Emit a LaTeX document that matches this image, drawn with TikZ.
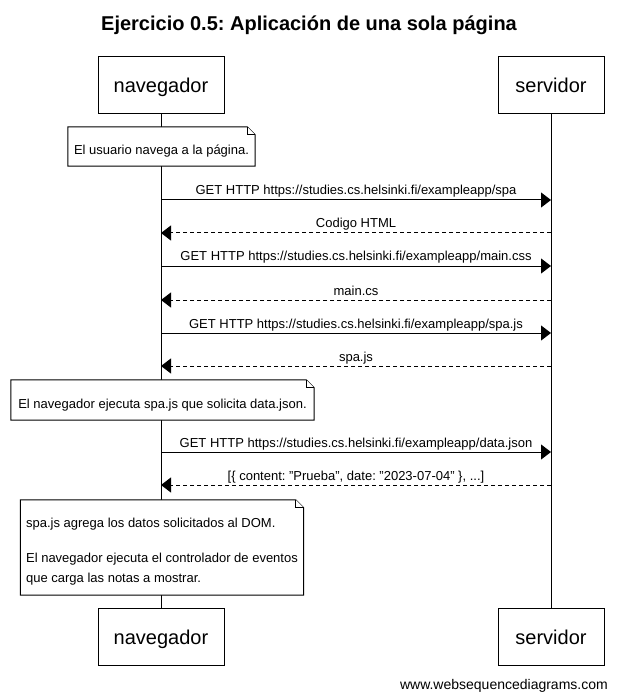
\documentclass[tikz,border=0pt]{standalone}
\usepackage{fontspec}
\setmainfont{Liberation Sans}
\usetikzlibrary{arrows.meta,calc}
\pgfdeclarelayer{bg}
\pgfdeclarelayer{back}
\pgfdeclarelayer{mid}
\pgfsetlayers{bg,back,mid,main}
\frenchspacing
\newcommand\drawnote[1]{%
  \begin{pgfonlayer}{mid}
    \draw[notefill] (#1.north west) -- ([xshift=-8pt]#1.north east) -- ([yshift=-8pt]#1.north east) -- (#1.south east) -- (#1.south west) -- cycle;
    \draw[notefill] ([xshift=-8pt]#1.north east) |- ([yshift=-8pt]#1.north east);
  \end{pgfonlayer}}
\begin{document}
\begin{tikzpicture}[x=1pt,y=-1pt,
  actor/.style={draw,fill=white,line width=1pt,minimum height=57pt,inner sep=0pt,
    text height=18pt,text depth=3pt,font=\fontsize{20}{24}\selectfont},
  lbl/.style={font=\fontsize{13}{15}\selectfont,inner sep=0pt,anchor=base},
  req/.style={line width=1pt,-{Triangle[length=10pt,width=15pt]}},
  resp/.style={req,dash pattern=on 4pt off 3pt},
  notebox/.style={inner sep=0pt,font=\fontsize{13}{15}\selectfont},
  lownote/.style={text height=18pt,text depth=1.4pt},
  notefill/.style={line width=1pt,fill=white},
  life/.style={line width=1pt}]
\begin{pgfonlayer}{bg}
  \fill[white] (0,0) rectangle (618,700);
\end{pgfonlayer}
\useasboundingbox (0,0) rectangle (618,700);

% title
\node[font=\fontsize{20}{24}\bfseries\selectfont,anchor=base,inner sep=0pt] (title) at (309,31) {Ejercicio 0.5: Aplicación de una sola página};

% participants
\node[actor,minimum width=126pt] (navT) at (161,85.5) {navegador};
\node[actor,minimum width=106pt] (srvT) at (551,85.5) {servidor};
\node[actor,minimum width=126pt] (navB) at (161,636.5) {navegador};
\node[actor,minimum width=106pt] (srvB) at (551,636.5) {servidor};

% lifelines
\begin{pgfonlayer}{back}
  \draw[life] (navT) -- (navB);
  \draw[life] (srvT) -- (srvB);
\end{pgfonlayer}

% message end points
\foreach \i/\y in {1/200,2/233,3/266,4/300,5/333,6/366,7/452,8/485}{
  \coordinate (n\i) at (161,\y);
  \coordinate (s\i) at (551,\y);
}

% note 1
\node[notebox,lownote,minimum width=187pt,minimum height=39pt] (note1) at (161.5,146.5) {El usuario navega a la página.};
\drawnote{note1}

% messages
\draw[req] (n1) -- (s1);
\node[lbl] (l1) at (356,195) {GET HTTP https://studies.cs.helsinki.fi/exampleapp/spa};
\draw[resp] (s2) -- (n2);
\node[lbl] (l2) at (356,228) {Codigo HTML};
\draw[req] (n3) -- (s3);
\node[lbl] (l3) at (356,261) {GET HTTP https://studies.cs.helsinki.fi/exampleapp/main.css};
\draw[resp] (s4) -- (n4);
\node[lbl] (l4) at (356,295) {main.cs};
\draw[req] (n5) -- (s5);
\node[lbl] (l5) at (356,328) {GET HTTP https://studies.cs.helsinki.fi/exampleapp/spa.js};
\draw[resp] (s6) -- (n6);
\node[lbl] (l6) at (356,361) {spa.js};

% note 2
\node[notebox,lownote,minimum width=303pt,minimum height=40pt] (note2) at (162.5,400) {El navegador ejecuta spa.js que solicita data.json.};
\drawnote{note2}

\draw[req] (n7) -- (s7);
\node[lbl] (l7) at (356,447) {GET HTTP https://studies.cs.helsinki.fi/exampleapp/data.json};
\draw[resp] (s8) -- (n8);
\node[lbl] (l8) at (356,480) {[\{ content: \symbol{34}Prueba\symbol{34}, date: \symbol{34}2023-07-04\symbol{34} \}, ...]};

% note 3
\node[notebox,minimum width=283pt,minimum height=95pt,align=left,font=\fontsize{13}{20.6}\selectfont] (note3) at (162,547.5)
  {\strut\\[-17pt]spa.js agrega los datos solicitados al DOM.\\[14.4pt]El navegador ejecuta el controlador de eventos\\que carga las notas a mostrar.};
\drawnote{note3}

% footer
\node[font=\fontsize{14}{16}\selectfont,anchor=base east,inner sep=0pt] (foot) at (608,689) {www.websequencediagrams.com};
\end{tikzpicture}
\end{document}
